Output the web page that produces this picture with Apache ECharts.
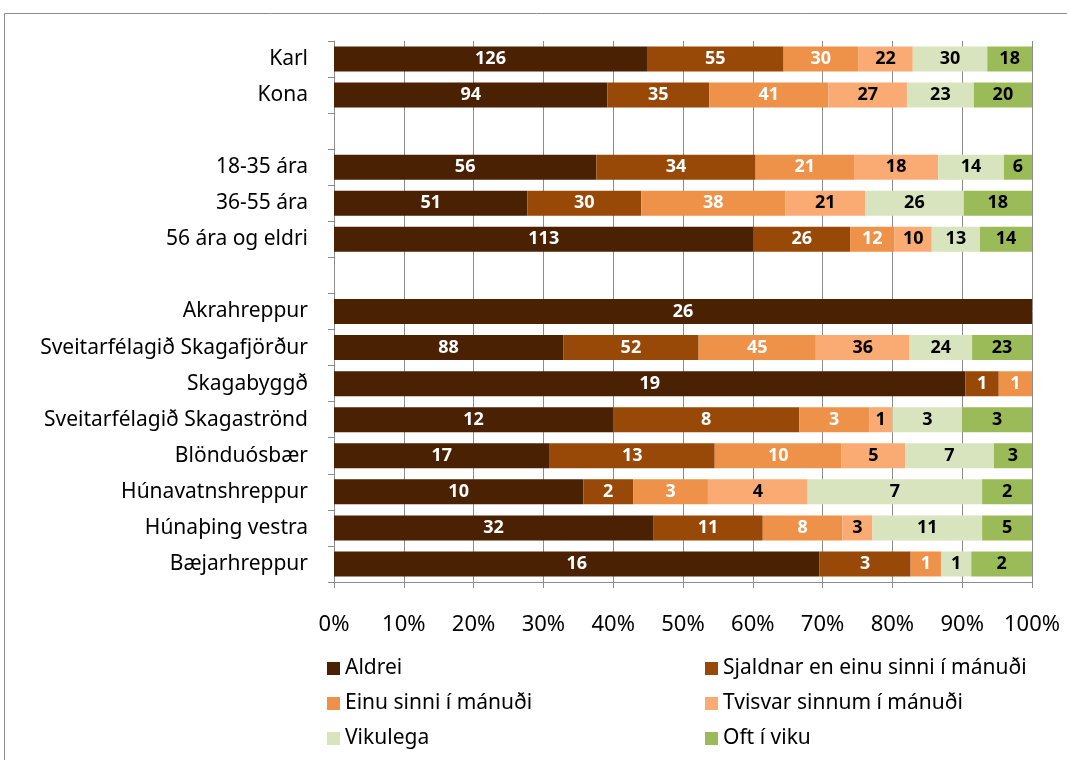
<!DOCTYPE html>
<html>
<head>
<meta charset="utf-8">
<script src="https://cdn.jsdelivr.net/npm/echarts@6/dist/echarts.min.js"></script>
<style>
  html, body { margin: 0; padding: 0; background: #fff; }
  #chart { width: 1067px; height: 760px; }
</style>
</head>
<body>
<div id="chart"></div>
<script>
const categories = ["Karl", "Kona", "", "18-35 ára", "36-55 ára", "56 ára og eldri", "",
  "Akrahreppur", "Sveitarfélagið Skagafjörður", "Skagabyggð", "Sveitarfélagið Skagaströnd",
  "Blönduósbær", "Húnavatnshreppur", "Húnaþing vestra", "Bæjarhreppur"];

const seriesNames = ["Aldrei", "Sjaldnar en einu sinni í mánuði", "Einu sinni í mánuði",
  "Tvisvar sinnum í mánuði", "Vikulega", "Oft í viku"];

// fjöldi svara (counts) per row
const aldrei   = [126, 94, null, 56, 51, 113, null, 26, 88, 19, 12, 17, 10, 32, 16];
const sjaldnar = [55, 35, null, 34, 30, 26, null, 0, 52, 1, 8, 13, 2, 11, 3];
const einu     = [30, 41, null, 21, 38, 12, null, 0, 45, 1, 3, 10, 3, 8, 1];
const tvisvar  = [22, 27, null, 18, 21, 10, null, 0, 36, 0, 1, 5, 4, 3, 0];
const vikulega = [30, 23, null, 14, 26, 13, null, 0, 24, 0, 3, 7, 7, 11, 1];
const oft      = [18, 20, null, 6, 18, 14, null, 0, 23, 0, 3, 3, 2, 5, 2];

const xTicks = [0, 10, 20, 30, 40, 50, 60, 70, 80, 90, 100];

const colors = ["#4a2103", "#984807", "#ee9249", "#f9ab73", "#d8e4bd", "#9bbb59"];
const labelColors = ["#fff", "#fff", "#fff", "#000", "#000", "#000"];

const allCounts = [aldrei, sjaldnar, einu, tvisvar, vikulega, oft];
const totals = categories.map((c, i) =>
  allCounts.reduce((s, arr) => s + (arr[i] || 0), 0));

const font = "'Noto Sans', sans-serif";

const chart = echarts.init(document.getElementById("chart"));

const series = allCounts.map((arr, k) => ({
  name: seriesNames[k],
  type: "bar",
  stack: "total",
  barWidth: 25,
  itemStyle: { color: colors[k] },
  label: {
    show: true,
    position: "inside",
    color: labelColors[k],
    fontFamily: font,
    fontWeight: "bold",
    fontSize: 18,
    formatter: (p) => (arr[p.dataIndex] ? String(arr[p.dataIndex]) : "")
  },
  data: arr.map((v, i) => (v === null ? "-" : (v / totals[i]) * 100))
}));

// one legend per item, two columns
const legendPos = [[327, 658], [705, 658], [327, 693], [705, 693], [327, 728], [705, 728]];
const legends = seriesNames.map((n, k) => ({
  data: [n],
  left: legendPos[k][0],
  top: legendPos[k][1],
  padding: 0,
  itemWidth: 13,
  itemHeight: 13,
  itemGap: 5,
  icon: "rect",
  selectedMode: false,
  textStyle: { fontFamily: font, fontSize: 21, color: "#000", padding: [0, 0, 0, 0] }
}));

chart.setOption({
  animation: false,
  color: colors,
  legend: legends,
  graphic: [{
    type: "rect",
    shape: { x: 4.5, y: 13.5, width: 1080, height: 780 },
    style: { fill: null, stroke: "#8c8c8c", lineWidth: 1 }
  }],
  grid: { left: 334, right: 35, top: 41, height: 541 },
  xAxis: {
    type: "value",
    min: 0,
    max: 100,
    interval: 10,
    axisLine: { show: true, lineStyle: { color: "#8c8c8c" } },
    axisTick: { show: true, length: 6, lineStyle: { color: "#8c8c8c" } },
    splitLine: { show: true, lineStyle: { color: "#8c8c8c" } },
    axisLabel: {
      margin: 32,
      fontFamily: font,
      fontSize: 22,
      color: "#000",
      formatter: (v) => (xTicks.includes(v) ? v + "%" : "")
    }
  },
  yAxis: {
    type: "category",
    inverse: true,
    data: categories,
    axisLine: { show: true, lineStyle: { color: "#8c8c8c" } },
    axisTick: { show: true, length: 6, lineStyle: { color: "#8c8c8c" } },
    axisLabel: { margin: 26, fontFamily: font, fontSize: 21, color: "#000" }
  },
  series: series
});
</script>
</body>
</html>
